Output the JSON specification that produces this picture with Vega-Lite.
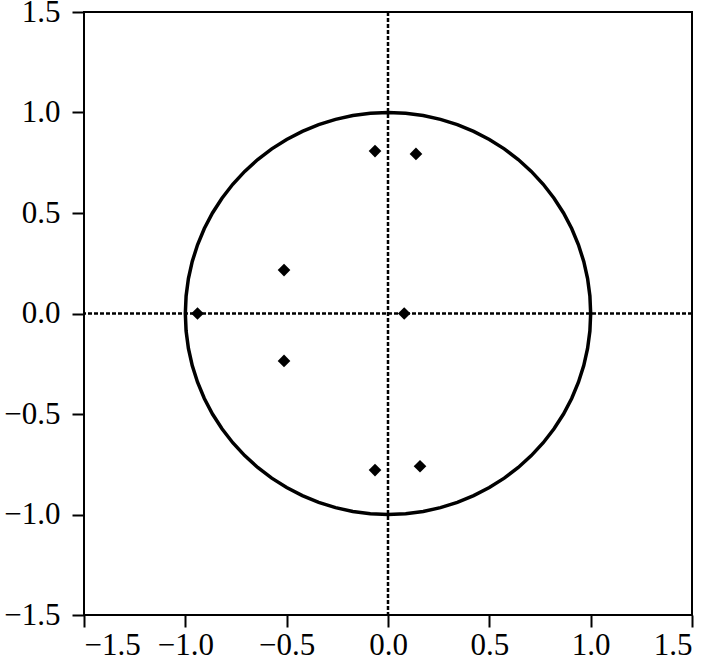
{
  "$schema": "https://vega.github.io/schema/vega-lite/v6.json",
  "width": 608,
  "height": 603,
  "autosize": "none",
  "padding": {"left": 84, "top": 12, "right": 17, "bottom": 48},
  "background": "white",
  "config": {
    "view": {"stroke": "#000", "strokeWidth": 2},
    "axis": {
      "grid": false,
      "domain": false,
      "tickColor": "#000",
      "tickWidth": 2,
      "tickSize": 12,
      "labelFont": "Liberation Serif",
      "labelFontSize": 31,
      "labelColor": "#000",
      "title": null
    }
  },
  "datasets": {
    "circle": [
      {"a":0,"x":1,"y":0},{"a":5,"x":0.9962,"y":0.0872},{"a":10,"x":0.9848,"y":0.1736},{"a":15,"x":0.9659,"y":0.2588},
      {"a":20,"x":0.9397,"y":0.342},{"a":25,"x":0.9063,"y":0.4226},{"a":30,"x":0.866,"y":0.5},{"a":35,"x":0.8192,"y":0.5736},
      {"a":40,"x":0.766,"y":0.6428},{"a":45,"x":0.7071,"y":0.7071},{"a":50,"x":0.6428,"y":0.766},{"a":55,"x":0.5736,"y":0.8192},
      {"a":60,"x":0.5,"y":0.866},{"a":65,"x":0.4226,"y":0.9063},{"a":70,"x":0.342,"y":0.9397},{"a":75,"x":0.2588,"y":0.9659},
      {"a":80,"x":0.1736,"y":0.9848},{"a":85,"x":0.0872,"y":0.9962},{"a":90,"x":0,"y":1},
      {"a":95,"x":-0.0872,"y":0.9962},{"a":100,"x":-0.1736,"y":0.9848},{"a":105,"x":-0.2588,"y":0.9659},{"a":110,"x":-0.342,"y":0.9397},
      {"a":115,"x":-0.4226,"y":0.9063},{"a":120,"x":-0.5,"y":0.866},{"a":125,"x":-0.5736,"y":0.8192},{"a":130,"x":-0.6428,"y":0.766},
      {"a":135,"x":-0.7071,"y":0.7071},{"a":140,"x":-0.766,"y":0.6428},{"a":145,"x":-0.8192,"y":0.5736},{"a":150,"x":-0.866,"y":0.5},
      {"a":155,"x":-0.9063,"y":0.4226},{"a":160,"x":-0.9397,"y":0.342},{"a":165,"x":-0.9659,"y":0.2588},{"a":170,"x":-0.9848,"y":0.1736},
      {"a":175,"x":-0.9962,"y":0.0872},{"a":180,"x":-1,"y":0},
      {"a":185,"x":-0.9962,"y":-0.0872},{"a":190,"x":-0.9848,"y":-0.1736},{"a":195,"x":-0.9659,"y":-0.2588},{"a":200,"x":-0.9397,"y":-0.342},
      {"a":205,"x":-0.9063,"y":-0.4226},{"a":210,"x":-0.866,"y":-0.5},{"a":215,"x":-0.8192,"y":-0.5736},{"a":220,"x":-0.766,"y":-0.6428},
      {"a":225,"x":-0.7071,"y":-0.7071},{"a":230,"x":-0.6428,"y":-0.766},{"a":235,"x":-0.5736,"y":-0.8192},{"a":240,"x":-0.5,"y":-0.866},
      {"a":245,"x":-0.4226,"y":-0.9063},{"a":250,"x":-0.342,"y":-0.9397},{"a":255,"x":-0.2588,"y":-0.9659},{"a":260,"x":-0.1736,"y":-0.9848},
      {"a":265,"x":-0.0872,"y":-0.9962},{"a":270,"x":0,"y":-1},
      {"a":275,"x":0.0872,"y":-0.9962},{"a":280,"x":0.1736,"y":-0.9848},{"a":285,"x":0.2588,"y":-0.9659},{"a":290,"x":0.342,"y":-0.9397},
      {"a":295,"x":0.4226,"y":-0.9063},{"a":300,"x":0.5,"y":-0.866},{"a":305,"x":0.5736,"y":-0.8192},{"a":310,"x":0.6428,"y":-0.766},
      {"a":315,"x":0.7071,"y":-0.7071},{"a":320,"x":0.766,"y":-0.6428},{"a":325,"x":0.8192,"y":-0.5736},{"a":330,"x":0.866,"y":-0.5},
      {"a":335,"x":0.9063,"y":-0.4226},{"a":340,"x":0.9397,"y":-0.342},{"a":345,"x":0.9659,"y":-0.2588},{"a":350,"x":0.9848,"y":-0.1736},
      {"a":355,"x":0.9962,"y":-0.0872},{"a":360,"x":1,"y":0}
    ],
    "points": [
      {"x":-0.064,"y":0.808},
      {"x":0.138,"y":0.794},
      {"x":-0.513,"y":0.216},
      {"x":-0.94,"y":0.0},
      {"x":0.08,"y":0.0},
      {"x":-0.513,"y":-0.236},
      {"x":-0.064,"y":-0.779},
      {"x":0.158,"y":-0.76}
    ],
    "axes": [{"v": 0}]
  },
  "layer": [
    {
      "data": {"name": "circle"},
      "mark": {"type": "line", "color": "#000", "strokeWidth": 3.5},
      "encoding": {
        "x": {"field": "x", "type": "quantitative", "scale": {"domain": [-1.5, 1.5], "nice": false, "zero": false}, "axis": {"values": [-1.5, -1, -0.5, 0, 0.5, 1, 1.5], "format": ".1f", "labelPadding": 3}},
        "y": {"field": "y", "type": "quantitative", "scale": {"domain": [-1.5, 1.5], "nice": false, "zero": false}, "axis": {"values": [-1.5, -1, -0.5, 0, 0.5, 1, 1.5], "format": ".1f", "labelPadding": 12}},
        "order": {"field": "a", "type": "quantitative"}
      }
    },
    {
      "data": {"name": "axes"},
      "mark": {"type": "rule", "color": "#000", "strokeWidth": 2.5, "strokeDash": [4, 2]},
      "encoding": {"x": {"field": "v", "type": "quantitative"}}
    },
    {
      "data": {"name": "axes"},
      "mark": {"type": "rule", "color": "#000", "strokeWidth": 2.5, "strokeDash": [4, 2]},
      "encoding": {"y": {"field": "v", "type": "quantitative"}}
    },
    {
      "data": {"name": "points"},
      "mark": {"type": "point", "shape": "diamond", "filled": true, "color": "#000", "size": 160, "opacity": 1},
      "encoding": {
        "x": {"field": "x", "type": "quantitative"},
        "y": {"field": "y", "type": "quantitative"}
      }
    }
  ]
}
